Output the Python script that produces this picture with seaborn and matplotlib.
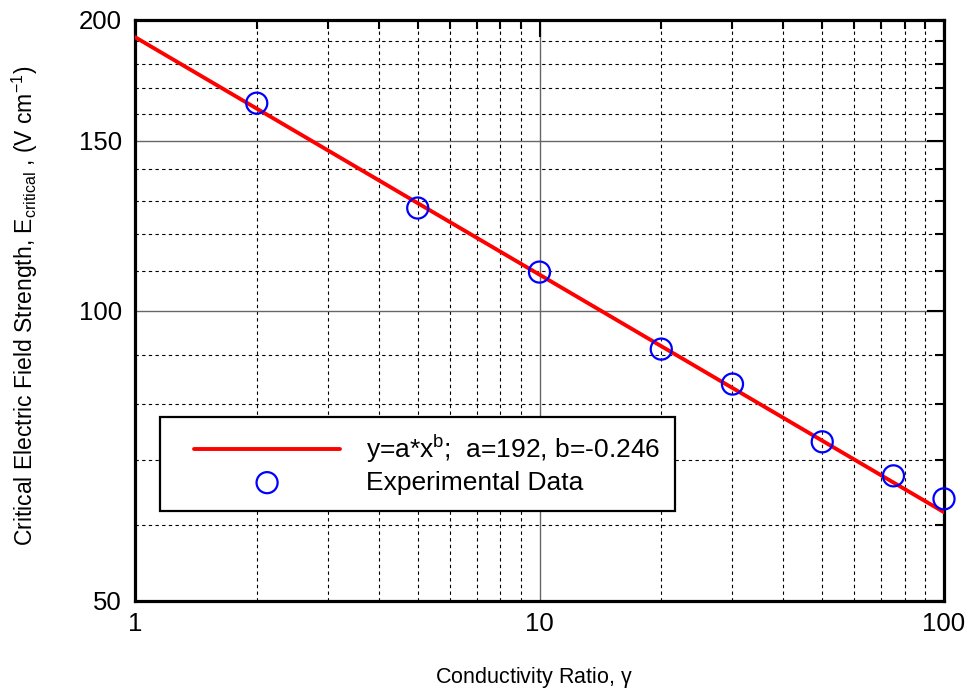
import numpy as np
import pandas as pd
import matplotlib
matplotlib.use("Agg")
import matplotlib.pyplot as plt
import seaborn as sns
from matplotlib.ticker import FixedLocator, NullFormatter, FixedFormatter
from matplotlib.lines import Line2D
from matplotlib.collections import PathCollection
from matplotlib.legend_handler import HandlerLine2D, HandlerPathCollection

# ---- data ----
gamma = [2, 5, 10, 20, 30, 50, 75, 100]
e_crit = [164.0, 127.7, 109.6, 91.2, 83.9, 73.1, 67.4, 63.8]
fit_x = [1, 100]
fit_y = [192.0, 61.8]
fit_label = "y=a*x$^{b}$;  a=192, b=-0.246"
data_label = "Experimental Data"
x_ticks = [1, 10, 100]
y_ticks = [50, 100, 150, 200]

sns.set_style("white")
plt.rcParams['font.family'] = ['Liberation Sans', 'DejaVu Sans']
plt.rcParams['mathtext.fontset'] = 'custom'
plt.rcParams['mathtext.rm'] = 'Liberation Sans'
plt.rcParams['mathtext.it'] = 'Liberation Sans'
for k in ['text.color', 'axes.labelcolor', 'xtick.color', 'ytick.color']:
    plt.rcParams[k] = 'black'

fig = plt.figure(figsize=(9.71, 6.94), dpi=100)
ax = fig.add_axes([135/971, 1-601/694, (944-135)/971, (601-20)/694])

df_fit = pd.DataFrame({"x": fit_x, "y": fit_y})
df_dat = pd.DataFrame({"x": gamma, "y": e_crit})

ax.set_xscale("log")
ax.set_yscale("log")

sns.lineplot(data=df_fit, x="x", y="y", ax=ax, color="#ff0000", lw=2.8,
             label=fit_label, zorder=3)
sns.scatterplot(data=df_dat, x="x", y="y", ax=ax, s=230, marker="o",
                facecolors="none", edgecolor="#0000ff", linewidth=1.6,
                label=data_label, zorder=4, clip_on=False)

ax.set_xlim(1, 100)
ax.set_ylim(50, 200)

ax.xaxis.set_major_locator(FixedLocator(x_ticks))
ax.xaxis.set_major_formatter(FixedFormatter([str(v) for v in x_ticks]))
xminor = [m * 10**d for d in range(0, 2) for m in range(2, 10)]
ax.xaxis.set_minor_locator(FixedLocator(xminor))
ax.xaxis.set_minor_formatter(NullFormatter())

ax.yaxis.set_major_locator(FixedLocator(y_ticks))
ax.yaxis.set_major_formatter(FixedFormatter([str(v) for v in y_ticks]))
yminor = [v for v in range(60, 200, 10) if v not in (100, 150)]
ax.yaxis.set_minor_locator(FixedLocator(yminor))
ax.yaxis.set_minor_formatter(NullFormatter())

ax.grid(which="major", color="#666666", lw=1.0, ls="-")
ax.grid(which="minor", color="#000000", lw=0.8, ls=(0, (3, 3)))
ax.set_axisbelow(True)

ax.tick_params(which="both", direction="in", top=True, right=True,
               color="black", labelcolor="black", width=1.5)
ax.tick_params(which="major", length=12, labelsize=18.5)
ax.tick_params(axis="y", which="major", pad=9.5)
ax.tick_params(axis="x", which="major", pad=8)
ax.tick_params(which="minor", length=6.5)
for s in ax.spines.values():
    s.set_color("black")
    s.set_linewidth(2.3)

ax.set_xlabel("Conductivity Ratio, $\\gamma$", fontsize=15.5, color="black")
ax.set_ylabel("Critical Electric Field Strength, E$_{\\mathregular{critical}}$ , (V cm$^{\\mathregular{-1}}$)",
              fontsize=16.5, color="black")
ax.xaxis.set_label_coords(0.4926, -0.110)
ax.yaxis.set_label_coords(-0.1174, 0.5086)

hmap = {Line2D: HandlerLine2D(xpad=0.67),
        PathCollection: HandlerPathCollection(xpad=0.67)}
leg = ax.legend(loc="lower left", bbox_to_anchor=(0.031, 0.155, 0.637, 0.16),
                mode="expand", fontsize=19, frameon=True, fancybox=False,
                edgecolor="black", framealpha=1, handlelength=6.2,
                borderpad=0.62, labelspacing=0.2, handletextpad=0.98,
                handler_map=hmap, borderaxespad=0)
leg.get_frame().set_linewidth(1.6)
for t in leg.get_texts():
    t.set_color("black")

fig.savefig("out.png", dpi=100)
